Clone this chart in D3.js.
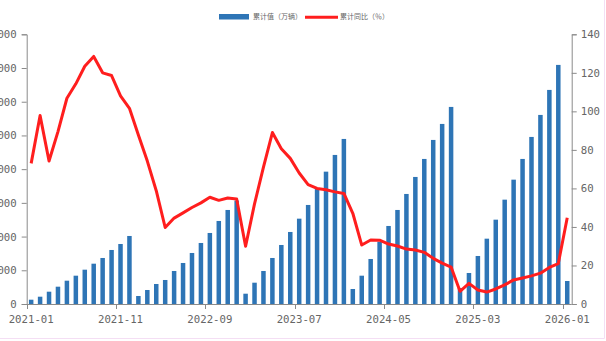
<!DOCTYPE html>
<html>
<head>
<meta charset="utf-8">
<script src="https://cdn.jsdelivr.net/npm/d3@7"></script>
<style>
  html, body { margin: 0; padding: 0; background: #fff; }
  svg { display: block; }
</style>
</head>
<body>
<svg id="chart" width="606" height="341"></svg>
<script>
// Monthly categories 2021-01 .. 2026-01
const months = d3.timeMonth.range(new Date(2021, 0, 1), new Date(2026, 1, 1)).map(d3.timeFormat("%Y-%m"));

// Cumulative value (bars, left axis)
const cumulative = [
  1276, 2166, 3650, 5134, 6914, 8398, 10178, 11958, 13650, 16024, 17800, 20178,
  2374, 4154, 5935, 7122, 9792, 12166, 15134, 18101, 21068, 24629, 27893, 30700,
  3056, 6320, 9792, 13650, 17507, 21365, 25312, 29377, 34332, 39258, 44214, 48961,
  4451, 8398, 13353, 18487, 23145, 27893, 32641, 37685, 43027, 48665, 53412, 58457,
  4750, 9199, 14243, 19377, 25015, 30950, 36884, 43027, 49555, 56083, 63501, 70920,
  6825
];

// Cumulative year-on-year change, % (line, right axis)
const yoy = [
  73.0, 97.8, 74.2, 89.5, 106.8, 114.3, 123.4, 128.5, 120.0, 118.6, 108.0, 101.6,
  87.7, 74.2, 58.8, 39.7, 44.6, 47.3, 50.1, 52.5, 55.4, 53.8, 55.0, 54.5,
  30.0, 52.0, 71.0, 89.0, 80.6, 75.6, 68.0, 62.0, 60.0, 59.3, 58.2, 57.4,
  47.1, 30.6, 33.2, 33.1, 31.1, 30.1, 28.5, 28.0, 26.8, 23.7, 21.2, 19.2,
  6.6, 10.7, 7.3, 6.2, 7.8, 9.9, 12.5, 13.5, 14.6, 16.0, 19.0, 21.0,
  44.8
];

const xTickLabels = ["2021-01", "2021-11", "2022-09", "2023-07", "2024-05", "2025-03", "2026-01"];
const leftTicks = [0, 10000, 20000, 30000, 40000, 50000, 60000, 70000, 80000];
const rightTicks = [0, 20, 40, 60, 80, 100, 120, 140];
const seriesNames = ["累计值（万辆）", "累计同比（％）"];

const svg = d3.select("#chart");
const W = 606, H = 341;
const plot = { left: 26.7, right: 571.7, top: 34.3, bottom: 304 };

const axisColor = "#8a8a8a";
const textColor = "#666";
const mono = "'DejaVu Sans Mono', monospace";
const barColor = "#2e75b6";
const lineColor = "#ff1e1e";

const x = d3.scaleBand().domain(months).range([plot.left, plot.right]).padding(0);
const yL = d3.scaleLinear().domain([0, 80000]).range([plot.bottom, plot.top]);
const yR = d3.scaleLinear().domain([0, 140]).range([plot.bottom, plot.top]);

// container edge
svg.append("rect").attr("x", 0).attr("y", 0).attr("width", W).attr("height", H).attr("fill", "#fff");
svg.append("path").attr("d", `M604.5,0V338.5H0`).attr("fill", "none").attr("stroke", "#f4def4").attr("stroke-width", 1);

// bars
const barW = 4.5;
svg.append("g").selectAll("rect").data(cumulative).join("rect")
  .attr("x", (d, i) => x(months[i]) + x.bandwidth() / 2 - barW / 2)
  .attr("y", d => yL(d))
  .attr("width", barW)
  .attr("height", d => yL(0) - yL(d))
  .attr("fill", barColor);

// left axis
const gL = svg.append("g").attr("transform", `translate(${plot.left},0)`)
  .call(d3.axisLeft(yL).tickValues(leftTicks).tickSize(5).tickPadding(5).tickFormat(d3.format("d")));
// right axis
const gR = svg.append("g").attr("transform", `translate(${plot.right},0)`)
  .call(d3.axisRight(yR).tickValues(rightTicks).tickSize(5).tickPadding(4).tickFormat(d3.format("d")));

// bottom axis: ticks on band boundaries, labels at band centres
const gB = svg.append("g").attr("transform", `translate(0,${plot.bottom})`);
gB.append("line").attr("x1", plot.left).attr("x2", plot.right).attr("y1", 0.5).attr("y2", 0.5)
  .attr("stroke", axisColor);
xTickLabels.forEach(lbl => {
  const xs = Math.round(x(lbl)) + 0.5;
  gB.append("line").attr("x1", xs).attr("x2", xs).attr("y1", 0).attr("y2", 5).attr("stroke", axisColor);
  gB.append("text").attr("x", x(lbl) + x.bandwidth() / 2).attr("y", 19)
    .attr("text-anchor", "middle").attr("fill", textColor)
    .style("font-family", mono).style("font-size", "10.7px").text(lbl);
});

[gL, gR].forEach(g => {
  g.select(".domain").attr("stroke", axisColor);
  g.selectAll(".tick line").attr("stroke", axisColor);
  g.selectAll(".tick text").attr("fill", textColor).style("font-family", mono).style("font-size", "10.7px");
});

// line
const line = d3.line().x((d, i) => x(months[i]) + x.bandwidth() / 2).y(d => yR(d));
svg.append("path").datum(yoy).attr("d", line)
  .attr("fill", "none").attr("stroke", lineColor).attr("stroke-width", 3).attr("stroke-linejoin", "round");

// legend
const lg = svg.append("g");
lg.append("rect").attr("x", 219).attr("y", 14).attr("width", 30).attr("height", 5.5).attr("fill", barColor);
lg.append("text").attr("x", 253).attr("y", 17).attr("dy", "0.35em").attr("fill", textColor)
  .style("font-family", "'Noto Sans CJK SC', sans-serif").style("font-size", "7px").text(seriesNames[0]);
lg.append("line").attr("x1", 305).attr("x2", 338).attr("y1", 17.2).attr("y2", 17.2)
  .attr("stroke", lineColor).attr("stroke-width", 3);
lg.append("text").attr("x", 340).attr("y", 17).attr("dy", "0.35em").attr("fill", textColor)
  .style("font-family", "'Noto Sans CJK SC', sans-serif").style("font-size", "7px").text(seriesNames[1]);
</script>
</body>
</html>
